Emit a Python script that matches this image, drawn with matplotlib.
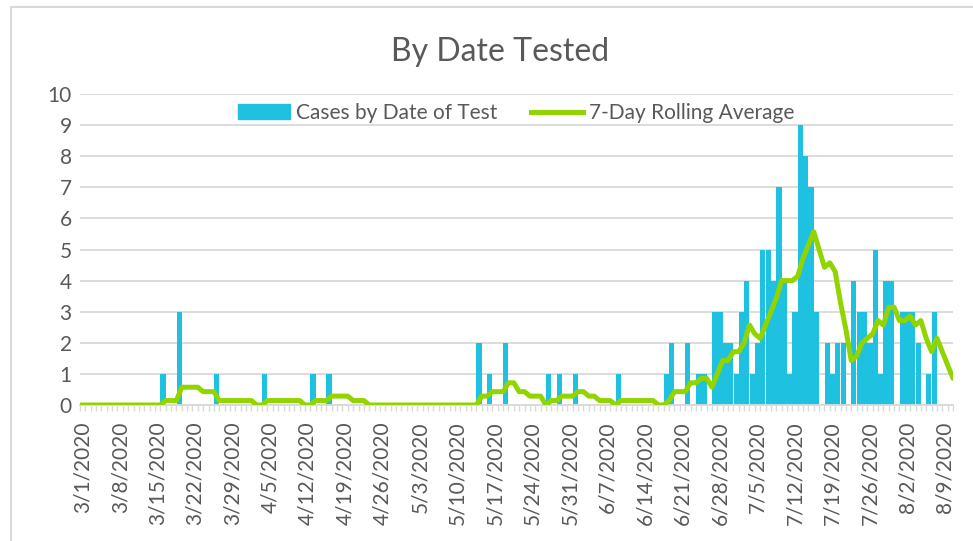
import matplotlib
matplotlib.use('Agg')
import matplotlib.pyplot as plt
from matplotlib.patches import Patch, Rectangle
from matplotlib.lines import Line2D
import numpy as np
import pandas as pd

# daily positive cases by date of test, 3/1/2020 .. 8/10/2020 (one row per week, Sun..Sat)
cases = [
    0, 0, 0, 0, 0, 0, 0,
    0, 0, 0, 0, 0, 0, 0,
    0, 1, 0, 0, 3, 0, 0,
    0, 0, 0, 0, 1, 0, 0,
    0, 0, 0, 0, 0, 0, 1,
    0, 0, 0, 0, 0, 0, 0,
    0, 1, 0, 0, 1, 0, 0,
    0, 0, 0, 0, 0, 0, 0,
    0, 0, 0, 0, 0, 0, 0,
    0, 0, 0, 0, 0, 0, 0,
    0, 0, 0, 0, 2, 0, 1,
    0, 0, 2, 0, 0, 0, 0,
    0, 0, 0, 1, 0, 1, 0,
    0, 1, 0, 0, 0, 0, 0,
    0, 0, 1, 0, 0, 0, 0,
    0, 0, 0, 0, 1, 2, 0,
    0, 2, 0, 1, 1, 0, 3,
    3, 2, 2, 1, 3, 4, 1,
    2, 5, 5, 4, 7, 4, 1,
    3, 9, 8, 7, 3, 0, 2,
    1, 2, 2, 0, 4, 3, 3,
    2, 5, 1, 4, 4, 0, 3,
    3, 3, 2, 0, 1, 3, 0,
    0, 0,
]
dates = pd.date_range('2020-03-01', periods=len(cases), freq='D')
labels = ['{}/{}/{}'.format(d.month, d.day, d.year) for d in dates]
label_step = 7

bar_color = '#1FC1E0'
line_color = '#92D400'
text_color = '#595959'
grid_color = '#D9D9D9'

plt.rcParams['font.family'] = ['Lato', 'DejaVu Sans']

# trailing 7-day average; line is drawn on tick marks (edge to edge)
avg = pd.Series(cases).rolling(7, min_periods=1).sum() / 7.0
line_y = np.concatenate([[0.0], avg.values])
line_x = np.arange(len(cases) + 1) - 0.5

fig = plt.figure(figsize=(9.73, 5.41), dpi=100)
ax = fig.add_axes([80 / 973, 136 / 541, 873 / 973, 311 / 541])

x = np.arange(len(cases))
ax.bar(x, cases, width=0.96, color=bar_color, zorder=2, linewidth=0)
ax.plot(line_x, line_y, color=line_color, lw=3.6, zorder=3,
        solid_joinstyle='round', solid_capstyle='round')

ax.set_xlim(-0.5, len(cases) - 0.5)
ax.set_ylim(0, 10)
ax.set_yticks(range(0, 11))
ax.yaxis.grid(True, color=grid_color, lw=1.3, zorder=0)
ax.set_axisbelow(True)

ax.set_xticks(x[::label_step])
ax.set_xticklabels(labels[::label_step], rotation=90)
ax.set_xticks(np.arange(-0.5, len(cases)), minor=True)
ax.tick_params(axis='x', which='major', length=0, pad=12, labelsize=15,
               labelcolor=text_color)
ax.tick_params(axis='x', which='minor', length=4, width=1, color=grid_color)
ax.tick_params(axis='y', length=0, pad=6, labelsize=15, labelcolor=text_color)

for s in ['top', 'right', 'left']:
    ax.spines[s].set_visible(False)
ax.spines['bottom'].set_color(grid_color)
ax.spines['bottom'].set_linewidth(1.3)

fig.text(500 / 973, 1 - 52 / 541, 'By Date Tested', ha='center', va='center',
         fontsize=23, color=text_color)

handles = [Patch(color=bar_color), Line2D([], [], color=line_color, lw=3.6)]
fig.legend(handles, ['Cases by Date of Test', '7-Day Rolling Average'],
           loc='center', bbox_to_anchor=(516 / 973, 1 - 113 / 541), ncol=2,
           frameon=False, fontsize=15, labelcolor=text_color,
           handlelength=2.5, handletextpad=0.3, columnspacing=1.6)

fig.patches.append(Rectangle((11 / 973, -0.1), 1.2, 0.1 + (541 - 6.5) / 541,
                             transform=fig.transFigure, fill=False,
                             ec=grid_color, lw=1.5))

fig.savefig('out.png', dpi=100)
